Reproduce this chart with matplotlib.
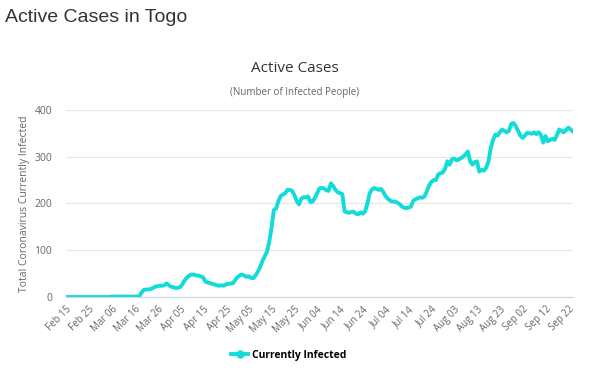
import matplotlib.pyplot as plt
import matplotlib.dates as mdates
from matplotlib.lines import Line2D
import pandas as pd

# daily active cases, starting Feb 15 2020
active = [0] * 20 + [1] * 13 + [
    9, 15, 16, 16, 17, 19, 22, 23, 24, 24, 25, 29, 25, 22, 21, 19, 20, 21,
    28, 36, 42, 46, 48, 48, 46, 46, 44, 42, 33, 31, 30, 28, 27, 25, 24, 25,
    24, 27, 28, 29, 29, 36, 42, 46, 48, 46, 43, 44, 41, 40, 46, 54, 64, 77,
    87, 97, 118, 148, 186, 189, 205, 216, 219, 222, 229, 229, 227, 218, 205,
    198, 210, 213, 213, 215, 203, 204, 212, 222, 232, 233, 232, 228, 227,
    243, 237, 229, 224, 222, 220, 183, 181, 180, 182, 182, 178, 177, 181,
    178, 183, 200, 222, 230, 233, 231, 229, 231, 224, 215, 210, 206, 204,
    204, 202, 199, 194, 191, 190, 191, 193, 205, 209, 211, 213, 212, 215,
    226, 238, 246, 250, 250, 262, 265, 266, 274, 290, 283, 294, 296, 292,
    294, 297, 300, 305, 311, 290, 283, 288, 290, 268, 272, 270, 276, 290,
    318, 335, 347, 345, 352, 358, 355, 352, 355, 370, 372, 365, 355, 345,
    340, 345, 351, 350, 349, 352, 348, 352, 346, 330, 344, 333, 336, 338,
    336, 346, 358, 355, 352, 357, 362, 358, 354,
]
dates = pd.date_range("2020-02-15", periods=len(active), freq="D")
yticks = [0, 100, 200, 300, 400]

line_color = "#12dcd8"
grey = "#666666"

fig = plt.figure(figsize=(5.9, 3.75), dpi=100)
ax = fig.add_axes([0.112, 0.208, 0.859, 0.499])

ax.plot(dates, active, color=line_color, linewidth=2.8, solid_joinstyle="round")

ax.set_xlim(dates[0], dates[-1])
ax.set_ylim(0, 400)
ax.set_yticks(yticks)
ax.set_xticks(dates[::10])
ax.xaxis.set_major_formatter(mdates.DateFormatter("%b %d"))
ax.tick_params(axis="x", length=0, pad=5, labelsize=7, labelcolor=grey)
ax.tick_params(axis="y", length=0, pad=10, labelsize=7.5, labelcolor=grey)
for lab in ax.get_xticklabels():
    lab.set_rotation(45)
    lab.set_ha("right")
    lab.set_rotation_mode("anchor")
    lab.set_fontfamily("Open Sans")
for lab in ax.get_yticklabels():
    lab.set_fontfamily("Open Sans")

ax.grid(axis="y", color="#e6e6e6", linewidth=0.8)
ax.set_axisbelow(True)
for s in ["top", "right", "left"]:
    ax.spines[s].set_visible(False)
ax.spines["bottom"].set_color("#ccd6eb")
ax.spines["bottom"].set_linewidth(0.8)

ax.set_ylabel("Total Coronavirus Currently Infected", fontsize=7.5, color=grey,
              family="Open Sans", labelpad=3)

fig.text(0.009, 0.952, "Active Cases in Togo", fontsize=14, color="#333333",
         family="Liberation Sans", va="center")
fig.text(0.5, 0.818, "Active Cases", fontsize=11, color="#333333",
         family="Open Sans", ha="center", va="center")
fig.text(0.5, 0.753, "(Number of Infected People)", fontsize=7, color=grey,
         family="Open Sans", ha="center", va="center")

handle = Line2D([], [], color=line_color, linewidth=2.8, marker="o", markersize=5)
fig.legend([handle], ["Currently Infected"], loc="center", bbox_to_anchor=(0.49, 0.053),
           frameon=False, prop={"family": "Open Sans", "weight": "bold", "size": 7.5},
           handlelength=1.6, handletextpad=0.4)

fig.savefig("out.png", dpi=100)
